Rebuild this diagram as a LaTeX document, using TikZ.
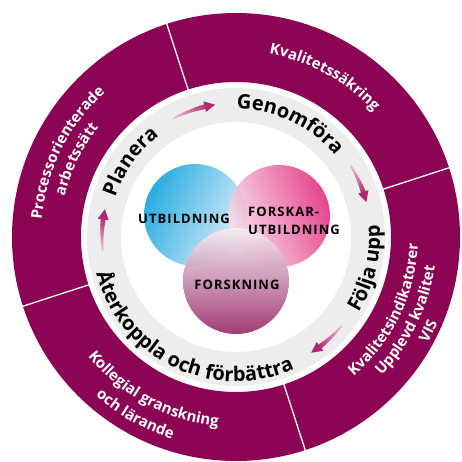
\documentclass[tikz,border=0pt]{standalone}
\usepackage{fontspec}
\setmainfont{Open Sans}
\newfontfamily\vennfont[LetterSpace=8]{Open Sans}
\usetikzlibrary{decorations.text}
\definecolor{ringpurple}{RGB}{140,5,85}
\definecolor{ringgray}{RGB}{237,237,237}
\definecolor{arrowlight}{RGB}{246,205,222}
\definecolor{arrowdark}{RGB}{178,40,110}
\definecolor{vblue}{RGB}{40,172,226}
\definecolor{vbluepale}{RGB}{222,238,248}
\definecolor{vpink}{RGB}{226,36,122}
\definecolor{vpinkpale}{RGB}{248,226,236}
\definecolor{vpurple}{RGB}{150,40,102}
\definecolor{vpurplepale}{RGB}{247,238,243}
\newcommand\ringfont{\fontsize{15}{15}\selectfont\bfseries}
\newcommand\cyclefont{\fontsize{20}{20}\selectfont\bfseries}
\newcommand\cwtext[4]{\path[#1={#4}] ({#2+70}:#3pt) arc[start angle={#2+70}, end angle={#2-70}, radius=#3pt];}
\newcommand\ccwtext[4]{\path[#1={#4}] ({#2-70}:#3pt) arc[start angle={#2-70}, end angle={#2+70}, radius=#3pt];}
\newcommand\ringarrow[4]{%
  \foreach \k in {0,...,11}{%
    \pgfmathsetmacro\ta{#2+(#3-#2)*\k/12}%
    \pgfmathsetmacro\tb{#2+(#3-#2)*(\k+1.3)/12}%
    \pgfmathsetmacro\wa{0.7+1.7*\k/12}%
    \pgfmathsetmacro\wb{0.7+1.7*(\k+1.3)/12}%
    \pgfmathsetmacro\ria{#1-\wa}%
    \pgfmathsetmacro\roa{#1+\wa}%
    \pgfmathsetmacro\rib{#1-\wb}%
    \pgfmathsetmacro\rob{#1+\wb}%
    \pgfmathtruncatemacro\pc{10+80*\k/11}%
    \fill[arrowdark!\pc!arrowlight] (\ta:\ria pt) -- (\tb:\rib pt) -- (\tb:\rob pt) -- (\ta:\roa pt) -- cycle;
  }%
  \pgfmathsetmacro\hi{#1-5.5}%
  \pgfmathsetmacro\ho{#1+5.5}%
  \fill[arrowdark] (#3:\hi pt) -- (#4:#1pt) -- (#3:\ho pt) -- cycle;
}
\tikzset{
  ringtext/.style={decorate, decoration={text along path, text align=center, text color=white, text={|\ringfont|#1}}},
  cycletext/.style={decorate, decoration={text along path, text align=center, text color=black, text={|\cyclefont|#1}}},
  vennlabel/.style={font=\vennfont\fontsize{13}{18}\selectfont\bfseries, text=black, inner sep=0pt},
  divider/.style={draw=white, line width=1.3pt}
}
\begin{document}
\begin{tikzpicture}
\useasboundingbox (-236pt,-225pt) rectangle (226pt,237pt);
\fill[white] (-236pt,-225pt) rectangle (226pt,237pt);
% outer purple ring
\fill[ringpurple, even odd rule] (0,0) circle[radius=224pt] circle[radius=155pt];
\foreach \a in {18,108,198,288}{\draw[divider] (\a:154pt) -- (\a:225pt);}
% grey cycle ring
\fill[ringgray, even odd rule] (0,0) circle[radius=149pt] circle[radius=115pt];
% Venn circles
\shade[top color=vblue, bottom color=vbluepale, shading angle=65] (-41pt,22pt) circle[radius=51pt];
\shade[top color=vpink, bottom color=vpinkpale, shading angle=-70, opacity=0.85] (43pt,21pt) circle[radius=51pt];
\shade[top color=vpurplepale, bottom color=vpurple, opacity=0.9] (0pt,-44pt) circle[radius=53pt];
\node[vennlabel] (utb) at (-52pt,18pt) {UTBILDNING};
\node[vennlabel, align=left, anchor=west] (fu) at (12pt,16pt) {FORSKAR-\\UTBILDNING};
\node[vennlabel] (fo) at (1pt,-48pt) {FORSKNING};
% ring texts
\cwtext{ringtext}{61}{186}{Kvalitetssäkring}
\cwtext{ringtext}{153.5}{195}{Processorienterade}
\cwtext{ringtext}{154}{176}{arbetssätt}
\ccwtext{ringtext}{241.7}{190}{Kollegial granskning}
\ccwtext{ringtext}{240.5}{212}{och lärande}
\ccwtext{ringtext}{-26}{182}{Kvalitetsindikatorer}
\ccwtext{ringtext}{-26}{201}{Upplevd kvalitet}
\ccwtext{ringtext}{-26}{219}{VIS}
% cycle texts
\cwtext{cycletext}{144.5}{127}{Planera}
\cwtext{cycletext}{64.5}{128}{Genomföra}
\ccwtext{cycletext}{-13.5}{144}{Följa upp}
\ccwtext{cycletext}{244.3}{144.5}{Återkoppla och förbättra}
% arrows
\ringarrow{134}{118}{103.5}{99}
\ringarrow{135}{32}{19.5}{15}
\ringarrow{138}{-40}{-52.5}{-57}
\ringarrow{134}{186}{172.5}{168}
\end{tikzpicture}
\end{document}
